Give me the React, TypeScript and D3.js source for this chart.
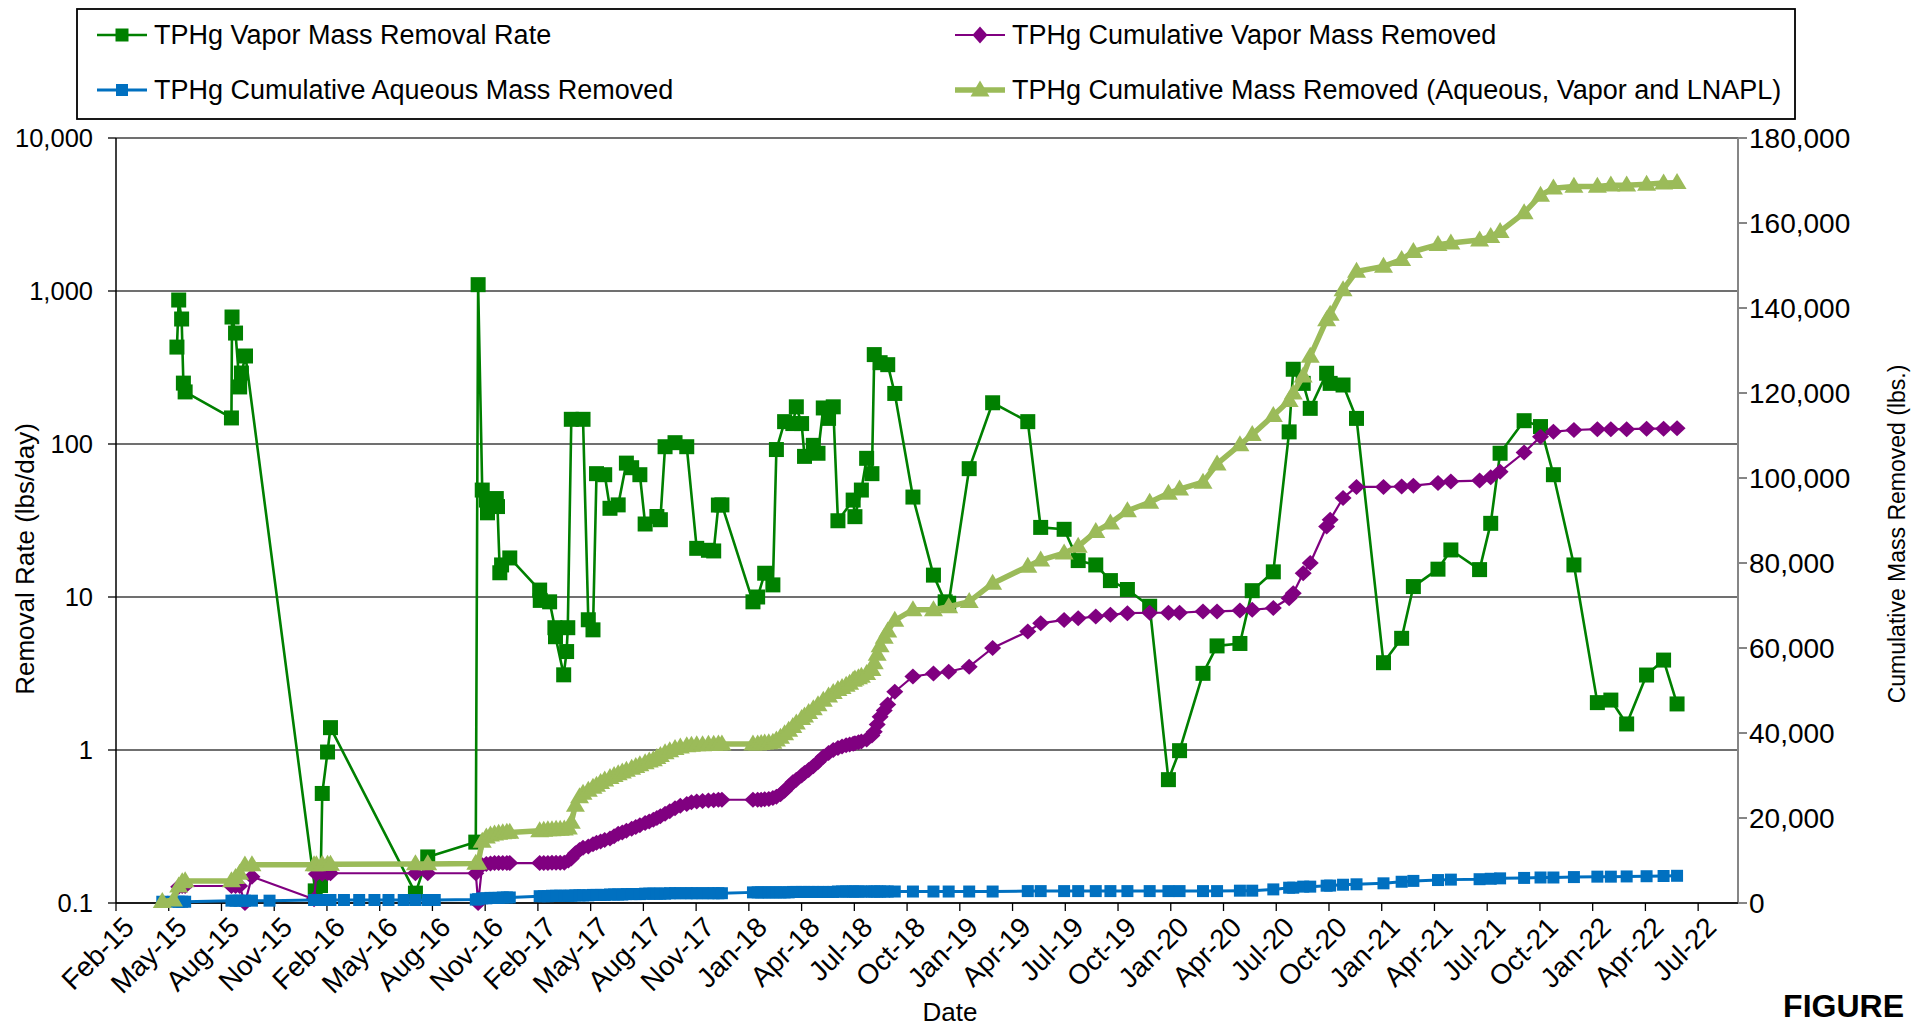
import * as d3 from "d3";

// TPHg vapor mass removal rate (lbs/day), left log axis
const rateDates = [
  "2015-05-30", "2015-06-02", "2015-06-07", "2015-06-10", "2015-06-13",
  "2015-08-31", "2015-09-01", "2015-09-07", "2015-09-14", "2015-09-17", "2015-09-24",
  "2016-01-21", "2016-01-30", "2016-02-02", "2016-02-11", "2016-02-16",
  "2016-07-10", "2016-07-31", "2016-10-21", "2016-10-25",
  "2016-11-01", "2016-11-08", "2016-11-10", "2016-11-25", "2016-11-27", "2016-12-01", "2016-12-04", "2016-12-18",
  "2017-02-07", "2017-02-08", "2017-02-24", "2017-03-05", "2017-03-06", "2017-03-20", "2017-03-25", "2017-03-27",
  "2017-04-02", "2017-04-22", "2017-05-01", "2017-05-09", "2017-05-15", "2017-05-29", "2017-06-07", "2017-06-21",
  "2017-07-05", "2017-07-14", "2017-07-28", "2017-08-06", "2017-08-26", "2017-09-01", "2017-09-09", "2017-09-26",
  "2017-10-16", "2017-11-02", "2017-11-22", "2017-12-01", "2017-12-09", "2017-12-15",
  "2018-02-06", "2018-02-14", "2018-02-26", "2018-03-12", "2018-03-18", "2018-04-01", "2018-04-15", "2018-04-21",
  "2018-04-30", "2018-05-05", "2018-05-20", "2018-05-28", "2018-06-06", "2018-06-15", "2018-06-23", "2018-07-01",
  "2018-07-27", "2018-07-30", "2018-08-10", "2018-08-19", "2018-08-28", "2018-09-01", "2018-09-11", "2018-09-24",
  "2018-10-06", "2018-11-06", "2018-12-11", "2018-12-31", "2019-01-06", "2019-02-10", "2019-03-22", "2019-05-21",
  "2019-06-12", "2019-07-22", "2019-08-15", "2019-09-14", "2019-10-09", "2019-11-07", "2019-12-15", "2020-01-16",
  "2020-02-04", "2020-03-15", "2020-04-08", "2020-05-17", "2020-06-07", "2020-07-13", "2020-08-09", "2020-08-16",
  "2020-09-02", "2020-09-14", "2020-10-12", "2020-10-18", "2020-11-09", "2020-12-02", "2021-01-17", "2021-02-17",
  "2021-03-09", "2021-04-20", "2021-05-12", "2021-06-30", "2021-07-19", "2021-08-04", "2021-09-14", "2021-10-12",
  "2021-11-03", "2021-12-08", "2022-01-17", "2022-02-09", "2022-03-08", "2022-04-11", "2022-05-10", "2022-06-02",
];
const rateValues = [
  430, 873, 656, 250, 219,
  148, 676, 531, 236, 291, 376,
  0.12, 0.13, 0.52, 0.97, 1.4,
  0.116, 0.2, 0.25, 1100,
  50, 43, 35.5, 44, 39, 14.4, 16.2, 18,
  11.1, 9.5, 9.3, 6.3, 5.5, 3.1, 4.4, 6.3,
  145, 145, 7.1, 6.1, 64, 63, 38, 40,
  75, 70, 63, 30, 33.6, 32, 96, 102,
  96, 20.8, 20.2, 20, 39.9, 40,
  9.3, 10, 14.3, 12, 92, 140, 136, 175,
  136, 83, 98, 87, 172, 147, 175, 31.5,
  43, 33.5, 50, 80.6, 64, 384, 340, 330,
  214, 45, 13.9, 9.3, 9.1, 69, 186, 140,
  28.5, 27.7, 17.3, 16.2, 12.8, 11.2, 8.7, 0.64,
  0.99, 3.17, 4.79, 4.97, 11, 14.6, 120, 308,
  249, 171, 290, 249, 243, 147, 3.72, 5.37,
  11.7, 15.2, 20.3, 15.1, 30.3, 87, 142, 130,
  63, 16.2, 2.04, 2.12, 1.48, 3.09, 3.87, 2.0,
];

// cumulative series (lbs), right axis; null = no point on that date
const cumDates = [
  "2015-05-05", "2015-05-24", "2015-06-02", "2015-06-08", "2015-06-13", "2015-08-31", "2015-09-07", "2015-09-14",
  "2015-09-23", "2015-10-05", "2015-11-04", "2016-01-19", "2016-01-23", "2016-02-02", "2016-02-11", "2016-02-16",
  "2016-03-10", "2016-04-05", "2016-05-01", "2016-05-25", "2016-06-20", "2016-07-10", "2016-07-31", "2016-08-12",
  "2016-10-21", "2016-10-25", "2016-11-01", "2016-11-08", "2016-11-15", "2016-11-22", "2016-11-29", "2016-12-06",
  "2016-12-13", "2016-12-18", "2017-02-07", "2017-02-14", "2017-02-21", "2017-02-28", "2017-03-07", "2017-03-14",
  "2017-03-21", "2017-03-28", "2017-04-02", "2017-04-09", "2017-04-16", "2017-04-22", "2017-05-01", "2017-05-09",
  "2017-05-15", "2017-05-22", "2017-05-29", "2017-06-07", "2017-06-14", "2017-06-21", "2017-06-28", "2017-07-05",
  "2017-07-14", "2017-07-21", "2017-07-28", "2017-08-06", "2017-08-13", "2017-08-20", "2017-08-26", "2017-09-01",
  "2017-09-09", "2017-09-17", "2017-09-26", "2017-10-05", "2017-10-16", "2017-10-24", "2017-11-02", "2017-11-12",
  "2017-11-22", "2017-12-01", "2017-12-09", "2017-12-15", "2018-02-06", "2018-02-14", "2018-02-20", "2018-02-26",
  "2018-03-05", "2018-03-12", "2018-03-18", "2018-03-25", "2018-04-01", "2018-04-08", "2018-04-15", "2018-04-21",
  "2018-04-30", "2018-05-05", "2018-05-12", "2018-05-20", "2018-05-28", "2018-06-06", "2018-06-15", "2018-06-23",
  "2018-07-01", "2018-07-08", "2018-07-15", "2018-07-21", "2018-07-27", "2018-07-30", "2018-08-05", "2018-08-10",
  "2018-08-19", "2018-08-28", "2018-09-01", "2018-09-06", "2018-09-11", "2018-09-18", "2018-09-24", "2018-10-06",
  "2018-11-06", "2018-12-11", "2019-01-06", "2019-02-10", "2019-03-22", "2019-05-21", "2019-06-12", "2019-07-22",
  "2019-08-15", "2019-09-14", "2019-10-09", "2019-11-07", "2019-12-15", "2020-01-16", "2020-02-04", "2020-03-15",
  "2020-04-08", "2020-05-17", "2020-06-07", "2020-07-13", "2020-08-09", "2020-08-16", "2020-09-02", "2020-09-14",
  "2020-10-12", "2020-10-18", "2020-11-09", "2020-12-02", "2021-01-17", "2021-02-17", "2021-03-09", "2021-04-20",
  "2021-05-12", "2021-06-30", "2021-07-19", "2021-08-04", "2021-09-14", "2021-10-12", "2021-11-03", "2021-12-08",
  "2022-01-17", "2022-02-09", "2022-03-08", "2022-04-11", "2022-05-10", "2022-06-02",
];
const vaporValues = [
  null, null, 3800, 4000, 4000, 4000, 4000, 4000,
  0, 6200, null, 870, 6800, 6900, 7000, 7000,
  null, null, null, null, null, 7000, 7000, null,
  7000, 0, 8900, 9200, 9300, 9400, 9400, 9400,
  9400, 9400, 9400, 9400, 9400, 9450, 9500, 9500,
  9500, 10000, 10500, 11700, 12500, 13000, 13300, 13800,
  14200, 14500, 14800, 15200, 15700, 16300, 16600, 17000,
  17500, 17900, 18300, 18800, 19200, 19600, 20000, 20400,
  21000, 21600, 22300, 22900, 23300, 23700, 23900, 24000,
  24100, 24200, 24300, 24300, 24300, 24300, 24300, 24400,
  24500, 24700, 25000, 25600, 26400, 27400, 28400, 29000,
  30000, 30600, 31300, 32200, 33200, 34400, 35300, 36000,
  36500, 36800, 37100, 37300, 37500, 37600, 37800, 38000,
  38500, 39400, 40300, 42000, 43800, 45300, 46700, 49700,
  53300, 54000, 54400, 55600, 60000, 63900, 65800, 66600,
  67000, 67400, 67800, 68200, 68300, 68300, 68300, 68600,
  68600, 68800, 69000, 69400, 71700, 72900, 77600, 80000,
  88600, 90200, 95300, 97900, 97900, 98000, 98200, 98800,
  99200, 99400, 100200, 101500, 106000, 109700, 110900, 111300,
  111500, 111500, 111500, 111600, 111600, 111700,
];
const aqueousValues = [
  300, 300, 300, 300, 300, 550, 550, 550,
  550, 550, 550, 700, 700, 700, 700, 700,
  700, 700, 700, 700, 700, 700, 700, 700,
  800, 900, 1100, 1100, 1200, 1200, 1200, 1300,
  1300, 1300, 1600, 1600, 1600, 1700, 1700, 1700,
  1700, 1700, 1700, 1800, 1800, 1800, 1800, 1900,
  1900, 1900, 1900, 2000, 2000, 2000, 2000, 2100,
  2100, 2100, 2100, 2200, 2200, 2200, 2200, 2200,
  2200, 2300, 2300, 2300, 2300, 2300, 2300, 2300,
  2300, 2300, 2300, 2300, 2500, 2500, 2500, 2500,
  2500, 2500, 2500, 2500, 2500, 2500, 2600, 2600,
  2600, 2600, 2600, 2600, 2600, 2600, 2600, 2600,
  2700, 2700, 2700, 2700, 2700, 2700, 2700, 2700,
  2700, 2700, 2700, 2700, 2700, 2700, 2700, 2700,
  2700, 2700, 2700, 2700, 2700, 2800, 2800, 2800,
  2800, 2800, 2800, 2800, 2800, 2800, 2800, 2800,
  2800, 2900, 2900, 3200, 3600, 3600, 3850, 3850,
  4070, 4100, 4300, 4400, 4630, 5000, 5200, 5400,
  5500, 5600, 5700, 5800, 5900, 6000, 6000, 6100,
  6200, 6200, 6250, 6300, 6350, 6400,
];
const totalValues = [
  300, 700, 4000, 5000, 5200, 5200, 6000, 7000,
  8900, 9000, null, 9000, 9000, 9100, 9100, 9100,
  null, null, null, null, null, 9200, 9200, null,
  9300, 9400, 14500, 15500, 16000, 16200, 16400, 16500,
  16600, 16600, 17000, 17100, 17200, 17200, 17300, 17300,
  17400, 17600, 19000, 23000, 25000, 25800, 26500, 27200,
  27700, 28300, 28900, 29500, 30000, 30400, 30800, 31200,
  31700, 32100, 32500, 33000, 33400, 33700, 34200, 34700,
  35300, 35800, 36300, 36700, 37000, 37100, 37200, 37200,
  37300, 37300, 37400, 37400, 37400, 37400, 37500, 37600,
  37700, 37800, 38300, 39000, 39800, 40600, 41500, 42300,
  43400, 44000, 44800, 45700, 46600, 47700, 48700, 49500,
  50200, 50700, 51200, 51700, 52400, 52700, 53000, 53300,
  54000, 54900, 56500, 58500, 60500, 62500, 64000, 66500,
  69000, 69000, 69700, 70900, 75200, 79200, 80700, 82300,
  83900, 87400, 89400, 92300, 94300, 96400, 97400, 99000,
  103300, 107800, 110200, 114700, 118200, 120000, 124000, 128600,
  137200, 138500, 144300, 148600, 149800, 151400, 153300, 154900,
  155300, 156000, 156800, 158000, 162400, 166500, 168200, 168600,
  168600, 168900, 168900, 169100, 169400, 169500,
];

const xTickLabels = [
  "Feb-15", "May-15", "Aug-15", "Nov-15", "Feb-16", "May-16", "Aug-16", "Nov-16",
  "Feb-17", "May-17", "Aug-17", "Nov-17", "Jan-18", "Apr-18", "Jul-18", "Oct-18",
  "Jan-19", "Apr-19", "Jul-19", "Oct-19", "Jan-20", "Apr-20", "Jul-20", "Oct-20",
  "Jan-21", "Apr-21", "Jul-21", "Oct-21", "Jan-22", "Apr-22", "Jul-22",
];
const leftTicks = [0.1, 1, 10, 100, 1000, 10000];
const rightTicks = [0, 20000, 40000, 60000, 80000, 100000, 120000, 140000, 160000, 180000];

const W = 1919;
const H = 1028;
const M = { left: 116, right: 1738, top: 138, bottom: 903 };
const FONT = "'Liberation Sans', Arial, sans-serif";

const C_RATE = "#008000";
const C_VAPOR = "#800080";
const C_AQ = "#0070C0";
const C_TOTAL = "#9BBB59";

const parse = d3.utcParse("%Y-%m-%d");
const xStart = parse("2015-02-15")!;
const xEnd = parse("2022-09-14")!;

const x = d3.scaleUtc().domain([xStart, xEnd]).range([M.left, M.right]);
const yL = d3.scaleLog().domain([0.1, 10000]).range([M.bottom, M.top]);
const yR = d3.scaleLinear().domain([0, 180000]).range([M.bottom, M.top]);

type Pt = { x: number; y: number };

function pts(dates: string[], vals: (number | null)[], y: (v: number) => number): Pt[] {
  const out: Pt[] = [];
  dates.forEach((d, i) => {
    const v = vals[i];
    if (v === null || v === undefined) return;
    out.push({ x: x(parse(d)!), y: y(v) });
  });
  return out;
}

const line = d3.line<Pt>().x((d) => d.x).y((d) => d.y);

const square = (s: number) => `M${-s / 2},${-s / 2}h${s}v${s}h${-s}Z`;
const diamond = (w: number, h: number) => `M0,${-h}L${w},0L0,${h}L${-w},0Z`;
const triangle = (w: number, h: number) => `M0,${-h * 0.6}L${w / 2},${h * 0.4}L${-w / 2},${h * 0.4}Z`;

function Series({ data, color, width, marker }: { data: Pt[]; color: string; width: number; marker: string }) {
  return (
    <g>
      <path d={line(data) || ""} fill="none" stroke={color} strokeWidth={width} strokeLinejoin="round" />
      {data.map((p, i) => (
        <path key={i} d={marker} transform={`translate(${p.x},${p.y})`} fill={color} />
      ))}
    </g>
  );
}

function LegendItem({ x0, y0, color, width, marker, label }: any) {
  return (
    <g>
      <line x1={x0} x2={x0 + 50} y1={y0} y2={y0} stroke={color} strokeWidth={width} />
      <path d={marker} transform={`translate(${x0 + 25},${y0})`} fill={color} />
      <text x={x0 + 57} y={y0} dy="0.35em" fontSize={27} fontFamily={FONT}>{label}</text>
    </g>
  );
}

export default function App() {
  const ratePts = pts(rateDates, rateValues, yL);
  const vaporPts = pts(cumDates, vaporValues, yR);
  const aqPts = pts(cumDates, aqueousValues, yR);
  const totalPts = pts(cumDates, totalValues, yR);
  const xTicks = xTickLabels.map((lab, i) => ({ lab, pos: x(d3.utcDay.offset(xStart, 90 * i)) }));
  const fmt = d3.format(",");

  return (
    <svg width={W} height={H} style={{ position: "absolute", left: 0, top: 0, background: "#fff" }}>
      <rect width={W} height={H} fill="#fff" />
      {/* gridlines */}
      {leftTicks.map((t) => (
        <line key={t} x1={M.left} x2={M.right} y1={yL(t)} y2={yL(t)} stroke="#404040" strokeWidth={1.3} />
      ))}
      {/* left axis */}
      <line x1={M.left} x2={M.left} y1={M.top} y2={M.bottom} stroke="#000" strokeWidth={1.5} />
      {leftTicks.map((t) => (
        <g key={t}>
          <line x1={M.left - 8} x2={M.left} y1={yL(t)} y2={yL(t)} stroke="#000" strokeWidth={1.3} />
          <text x={M.left - 23} y={yL(t)} dy="0.35em" textAnchor="end" fontSize={25.5} fontFamily={FONT}>
            {fmt(t)}
          </text>
        </g>
      ))}
      {/* right axis */}
      <line x1={M.right} x2={M.right} y1={M.top} y2={M.bottom} stroke="#868686" strokeWidth={2} />
      {rightTicks.map((t) => (
        <g key={t}>
          <line x1={M.right} x2={M.right + 9} y1={yR(t)} y2={yR(t)} stroke="#868686" strokeWidth={2} />
          <text x={M.right + 11} y={yR(t)} dy="0.35em" fontSize={28} fontFamily={FONT}>
            {fmt(t)}
          </text>
        </g>
      ))}
      {/* bottom axis */}
      <line x1={M.left} x2={M.right} y1={M.bottom} y2={M.bottom} stroke="#000" strokeWidth={1.5} />
      {xTicks.map((t) => (
        <g key={t.lab}>
          <line x1={t.pos} x2={t.pos} y1={M.bottom} y2={M.bottom + 8} stroke="#000" strokeWidth={1.3} />
          <text
            transform={`translate(${t.pos + 6},${M.bottom + 12}) rotate(-45)`}
            dy="0.7em"
            textAnchor="end"
            fontSize={28}
            fontFamily={FONT}
          >
            {t.lab}
          </text>
        </g>
      ))}
      {/* axis titles */}
      <text transform={`translate(34,559) rotate(-90)`} textAnchor="middle" fontSize={26} fontFamily={FONT}>
        Removal Rate (lbs/day)
      </text>
      <text transform={`translate(1905,534) rotate(-90)`} textAnchor="middle" fontSize={23} fontFamily={FONT}>
        Cumulative Mass Removed (lbs.)
      </text>
      <text x={950} y={1021} textAnchor="middle" fontSize={26} fontFamily={FONT}>Date</text>
      <text x={1904} y={1017} textAnchor="end" fontSize={32} fontWeight="bold" fontFamily={FONT}>FIGURE</text>

      {/* series */}
      <Series data={ratePts} color={C_RATE} width={2.6} marker={square(15)} />
      <Series data={vaporPts} color={C_VAPOR} width={2.2} marker={diamond(8.5, 8)} />
      <Series data={aqPts} color={C_AQ} width={3} marker={square(12)} />
      <Series data={totalPts} color={C_TOTAL} width={5.5} marker={triangle(19, 16)} />

      {/* legend */}
      <rect x={77} y={9} width={1718} height={110} fill="#fff" stroke="#000" strokeWidth={1.8} />
      <LegendItem x0={97} y0={35} color={C_RATE} width={2.6} marker={square(13)} label="TPHg Vapor Mass Removal Rate" />
      <LegendItem x0={955} y0={35} color={C_VAPOR} width={2.2} marker={diamond(7.5, 8.5)} label="TPHg Cumulative Vapor Mass Removed" />
      <LegendItem x0={97} y0={90} color={C_AQ} width={3} marker={square(12)} label="TPHg Cumulative Aqueous Mass Removed" />
      <LegendItem x0={955} y0={90} color={C_TOTAL} width={5.5} marker={triangle(19, 16)} label="TPHg Cumulative Mass Removed (Aqueous, Vapor and LNAPL)" />
    </svg>
  );
}
